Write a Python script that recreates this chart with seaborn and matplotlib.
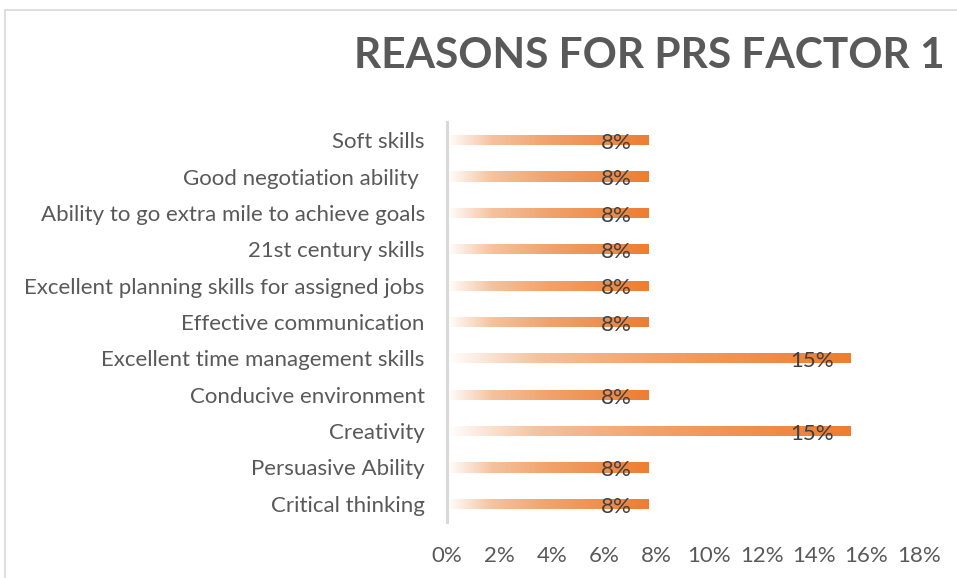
import numpy as np
import pandas as pd
import matplotlib
matplotlib.use("Agg")
import matplotlib.pyplot as plt
from matplotlib.colors import LinearSegmentedColormap
from matplotlib.patches import Rectangle
from matplotlib.ticker import PercentFormatter
import seaborn as sns

categories = [
    "Soft skills",
    "Good negotiation ability ",
    "Ability to go extra mile to achieve goals",
    "21st century skills",
    "Excellent planning skills for assigned jobs",
    "Effective communication",
    "Excellent time management skills",
    "Conducive environment",
    "Creativity",
    "Persuasive Ability",
    "Critical thinking",
]
responses = [1, 1, 1, 1, 1, 1, 2, 1, 2, 1, 1]
total = sum(responses)
shares = [r / total for r in responses]
x_ticks = [0, 0.02, 0.04, 0.06, 0.08, 0.10, 0.12, 0.14, 0.16, 0.18]
title = "REASONS FOR PRS FACTOR 1"

df = pd.DataFrame({"reason": categories, "share": shares})

sns.set_theme(style="white")
plt.rcParams["font.family"] = ["Lato", "DejaVu Sans"]

fig = plt.figure(figsize=(9.57, 5.78), dpi=100)
ax = fig.add_axes([447 / 957, 1 - 522 / 578, (919 - 447) / 957, (522 - 122) / 578])

sns.barplot(data=df, x="share", y="reason", orient="h", ax=ax,
            width=0.28, color="#ed7d31", saturation=1)

# white-to-orange gradient fill for each bar
grad = LinearSegmentedColormap.from_list(
    "bar_grad",
    [(0.0, "#ffffff"), (0.22, "#f5c3a0"), (0.5, "#f1a36d"), (1.0, "#ed7d31")],
)
ramp = np.linspace(0, 1, 256).reshape(1, -1)
for patch in ax.patches:
    x0, y0 = patch.get_x(), patch.get_y()
    w, h = patch.get_width(), patch.get_height()
    patch.set_facecolor("none")
    patch.set_edgecolor("none")
    im = ax.imshow(ramp, cmap=grad, aspect="auto", extent=[x0, x0 + w, y0 + h, y0],
                   interpolation="bicubic", zorder=2)
    im.set_clip_path(patch)

ax.set_xlim(0, 0.18)
ax.set_ylim(len(categories) - 0.5, -0.5)

for i, v in enumerate(shares):
    ax.annotate(f"{v:.0%}", xy=(v, i), xytext=(-12, -2), textcoords="offset points",
                ha="right", va="center", fontsize=16, color="#404040", zorder=3)

ax.set_xticks(x_ticks)
ax.xaxis.set_major_formatter(PercentFormatter(1.0, decimals=0))
ax.set_xlabel("")
ax.set_ylabel("")
ax.tick_params(axis="x", length=0, pad=17, labelsize=16, labelcolor="#595959")
ax.tick_params(axis="y", length=0, pad=16, labelsize=16, labelcolor="#595959")

for side in ["top", "right", "bottom"]:
    ax.spines[side].set_visible(False)
ax.spines["left"].set_color("#d9d9d9")
ax.spines["left"].set_linewidth(2.2)

# chart border
fig.patches.append(Rectangle((5 / 957, -0.1), 1.2, 1 - 10 / 578 + 0.1,
                             transform=fig.transFigure, fill=False,
                             edgecolor="#d9d9d9", linewidth=1.2))

fig.text(354 / 957, 1 - 56 / 578, title, ha="left", va="center",
         fontsize=30.5, fontweight="bold", color="#595959")

fig.savefig("out.png", dpi=100)
